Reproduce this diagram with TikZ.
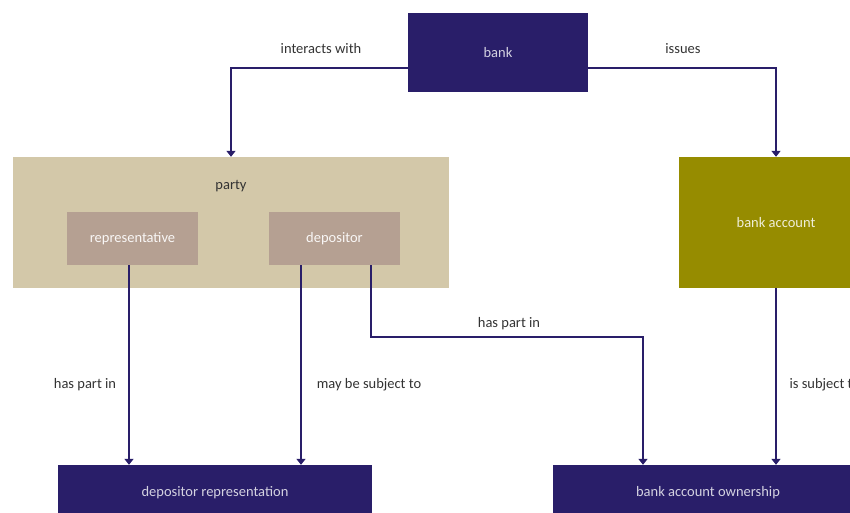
\documentclass[tikz,border=0pt]{standalone}
\usepackage{fontspec}
\setmainfont{Carlito}
\usepackage{xcolor}
\usetikzlibrary{arrows.meta}
\definecolor{navy}{HTML}{291E69}
\definecolor{tan}{HTML}{D3C8A9}
\definecolor{mauve}{HTML}{B5A092}
\definecolor{olive}{HTML}{968C00}
\definecolor{labelgray}{HTML}{333333}
\tikzset{
  box/.style={rectangle,inner sep=0pt,font=\fontsize{14.5}{17}\selectfont},
  link/.style={navy,line width=1.7pt,-{Triangle[width=9pt,length=6pt]}},
  lbl/.style={labelgray,font=\fontsize{14.5}{17}\selectfont}
}

\begin{document}
\begin{tikzpicture}[x=1pt,y=-1pt]
\useasboundingbox (0,0) rectangle (850,512);
\node[box,fill=navy,text=navy!20!white,minimum width=180pt,minimum height=79pt] (bank) at (498,52.5) {bank};
\node[box,fill=tan,minimum width=436pt,minimum height=131pt] (party) at (231,222.5) {};
\node[box,text=labelgray] (partylbl) at (231,186.5) {party};
\node[box,fill=mauve,text=white!92!mauve,minimum width=131pt,minimum height=53pt] (rep) at (132.5,238.5) {representative};
\node[box,fill=mauve,text=white!92!mauve,minimum width=131pt,minimum height=53pt] (dep) at (334.5,238.5) {depositor};
\node[box,fill=olive,text=white!85!olive,minimum width=194pt,minimum height=131pt] (account) at (776,222.5) {bank account};
\node[box,fill=navy,text=navy!20!white,minimum width=314pt,minimum height=56pt] (deprep) at (215,493) {depositor representation};
\node[box,fill=navy,text=navy!20!white,minimum width=310pt,minimum height=56pt] (own) at (708,493) {bank account ownership};

% connectors
\draw[link] ([yshift=-15.5pt]bank.west) -| (party.north);
\draw[link] ([yshift=-15.5pt]bank.east) -| (account.north);
\draw[link] ([xshift=-3.5pt]rep.south) -- ([xshift=-3.5pt]rep.south |- deprep.north);
\draw[link] ([xshift=-33.5pt]dep.south) -- ([xshift=-33.5pt]dep.south |- deprep.north);
\draw[link] ([xshift=36.5pt]dep.south) -- ++(0,72) -| ([xshift=-65pt]own.north);
\draw[link] (account.south) -- (account.south |- own.north);

% labels
\node[lbl] at (321,49) {interacts with};
\node[lbl] at (683,49) {issues};
\node[lbl] at (85,384.5) {has part in};
\node[lbl] at (369,384.5) {may be subject to};
\node[lbl] at (509,323.5) {has part in};
\node[lbl,anchor=west] at (786,384.5) {is subject to};
\end{tikzpicture}
\end{document}
